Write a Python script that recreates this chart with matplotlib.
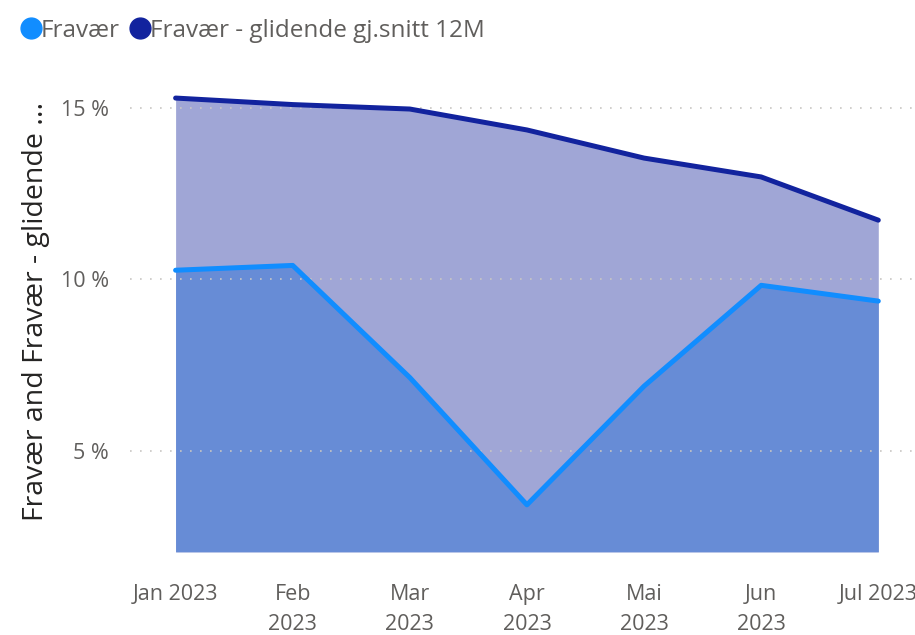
import matplotlib
matplotlib.use("Agg")
import matplotlib.pyplot as plt
from matplotlib.lines import Line2D
import numpy as np

plt.rcParams.update({
    'font.family': ['Open Sans', 'DejaVu Sans'],
    'font.size': 12,
})

# ── Data (percent) ──────────────────────────────────────────────────
months = ['Jan 2023', 'Feb\n2023', 'Mar\n2023', 'Apr\n2023',
          'Mai\n2023', 'Jun\n2023', 'Jul 2023']
fravaer = [10.27, 10.41, 7.14, 3.43, 6.89, 9.83, 9.37]
glidende = [15.29, 15.10, 14.97, 14.36, 13.54, 12.99, 11.73]
yticks = [5, 10, 15]

C = {
    'light': '#118DFF',
    'dark': '#12239E',
    'fill_dark': '#A0A6D6',
    'fill_light': '#678CD6',
    'grid': '#C8C6C4',
    'tick': '#605E5C',
    'label': '#252423',
}

fig = plt.figure(figsize=(9.15, 6.35), dpi=100)
ax = fig.add_axes([0.142, 0.131, 0.855, 0.727])

x = np.arange(len(months))
ymin = 2.06

ax.fill_between(x, ymin, glidende, color=C['fill_dark'], lw=0, zorder=1)
ax.fill_between(x, ymin, fravaer, color=C['fill_light'], lw=0, zorder=1.1)
ax.plot(x, glidende, color=C['dark'], lw=3.6, solid_capstyle='round',
        solid_joinstyle='round', zorder=4)
ax.plot(x, fravaer, color=C['light'], lw=3.6, solid_capstyle='round',
        solid_joinstyle='round', zorder=4)

ax.set_xlim(-0.39, 6.29)
ax.set_ylim(ymin, 15.52)

ax.set_yticks(yticks)
ax.set_yticklabels([f'{v} %' for v in yticks])
ax.set_xticks(x)
ax.set_xticklabels(months, linespacing=1.55)

ax.tick_params(axis='both', length=0, colors=C['tick'], labelsize=15.5)
ax.tick_params(axis='y', pad=15)
ax.tick_params(axis='x', pad=23)

ax.set_axisbelow(False)
ax.grid(axis='y', color=C['grid'], ls=(0, (1, 5)), lw=1.2, zorder=3)
ax.grid(axis='x', visible=False)
for s in ax.spines.values():
    s.set_visible(False)

ax.set_ylabel('Fravær and Fravær - glidende ...', fontsize=20.5,
              color=C['label'])
ax.yaxis.set_label_coords(-0.102, 0.52)

handles = [
    Line2D([], [], marker='o', ls='none', markersize=15, color=C['light'],
           label='Fravær'),
    Line2D([], [], marker='o', ls='none', markersize=15, color=C['dark'],
           label='Fravær - glidende gj.snitt 12M'),
]
fig.legend(handles=handles, loc='upper left', bbox_to_anchor=(-0.01, 1.005),
           ncol=2, frameon=False, fontsize=17.5, handletextpad=-0.35,
           handlelength=1.5, columnspacing=0.1, borderaxespad=0.5,
           labelcolor=C['tick'])

fig.savefig('out.png', dpi=100)
